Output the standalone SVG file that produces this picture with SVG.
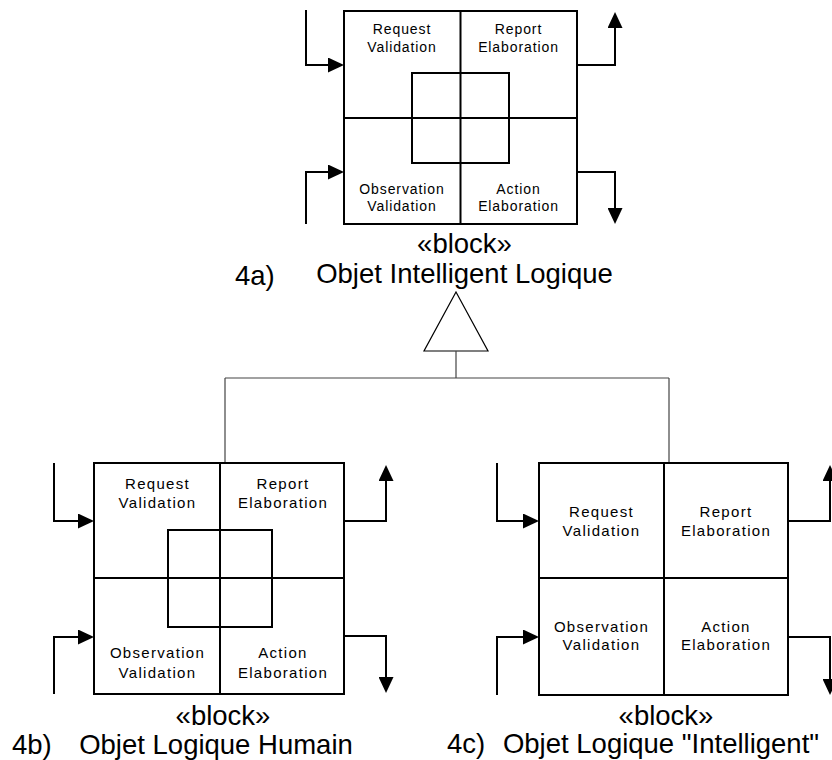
<svg xmlns="http://www.w3.org/2000/svg" width="832" height="760" viewBox="0 0 832 760">
<style>
.box{fill:#fff;stroke:#000;stroke-width:2}
.ln{fill:none;stroke:#000;stroke-width:2}
.arr{fill:none;stroke:#000;stroke-width:2;marker-end:url(#ah)}
.con{fill:none;stroke:#444;stroke-width:1.2}
.tri{fill:#fff;stroke:#000;stroke-width:1.2}
.s{font-family:"Liberation Sans",Arial,sans-serif;font-size:14px;letter-spacing:0.9px;text-anchor:middle;fill:#000}
.m{font-family:"Liberation Sans",Arial,sans-serif;font-size:15px;letter-spacing:1.3px;text-anchor:middle;fill:#000}
.b{font-family:"Liberation Sans",Arial,sans-serif;font-size:27.5px;text-anchor:middle;fill:#000}
.n{font-family:"Liberation Sans",Arial,sans-serif;font-size:27.5px;fill:#000}
</style>
<defs>
<marker id="ah" viewBox="0 0 16 15" markerWidth="16" markerHeight="15" refX="0" refY="7.5" orient="auto" markerUnits="userSpaceOnUse">
<path d="M0,0 L16,7.5 L0,15 z" fill="#000"/>
</marker>
</defs>

<g id="connectors">
<polygon class="tri" points="456,292 488,351 424,351"/>
<path class="con" d="M456,351 V378 M225,378 H669 M225,378 V463 M669,378 V463"/>
</g>

<g id="block-4a">
<rect class="box" x="344" y="11" width="233" height="213"/>
<path class="ln" d="M460.5,11 V224 M344,118 H577"/>
<rect class="ln" x="412" y="73" width="97" height="90"/>
<path class="arr" d="M306,10 V65 H328"/>
<path class="arr" d="M306,224 V172 H328"/>
<path class="arr" d="M577,65 H615 V28"/>
<path class="arr" d="M577,172 H615 V208"/>
<text class="s" x="402" y="34">Request</text>
<text class="s" x="402" y="52">Validation</text>
<text class="s" x="518.5" y="34">Report</text>
<text class="s" x="518.5" y="52">Elaboration</text>
<text class="s" x="402" y="194">Observation</text>
<text class="s" x="402" y="211">Validation</text>
<text class="s" x="518.5" y="194">Action</text>
<text class="s" x="518.5" y="211">Elaboration</text>
<text class="b" x="464.5" y="253">«block»</text>
<text class="b" x="464.5" y="283">Objet Intelligent Logique</text>
<text class="n" x="235" y="285">4a)</text>
</g>

<g id="block-4b">
<rect class="box" x="94" y="463" width="250" height="231"/>
<path class="ln" d="M220,463 V694 M94,578 H344"/>
<rect class="ln" x="168" y="530" width="104" height="97"/>
<path class="arr" d="M54,463 V521 H78"/>
<path class="arr" d="M54,694 V637 H78"/>
<path class="arr" d="M344,521 H386 V481"/>
<path class="arr" d="M344,636 H386 V677"/>
<text class="m" x="157.5" y="489">Request</text>
<text class="m" x="157.5" y="508">Validation</text>
<text class="m" x="283" y="489">Report</text>
<text class="m" x="283" y="508">Elaboration</text>
<text class="m" x="157.5" y="658">Observation</text>
<text class="m" x="157.5" y="678">Validation</text>
<text class="m" x="283" y="658">Action</text>
<text class="m" x="283" y="678">Elaboration</text>
<text class="b" x="223" y="725">«block»</text>
<text class="b" x="216" y="754">Objet Logique Humain</text>
<text class="n" x="12" y="754">4b)</text>
</g>

<g id="block-4c">
<rect class="box" x="539" y="463" width="249" height="232"/>
<path class="ln" d="M664,463 V695 M539,578 H788"/>
<path class="arr" d="M497,463 V521 H523"/>
<path class="arr" d="M497,695 V637 H523"/>
<path class="arr" d="M788,521 H830 V481"/>
<path class="arr" d="M788,637 H830 V679"/>
<text class="m" x="601.5" y="517">Request</text>
<text class="m" x="601.5" y="536">Validation</text>
<text class="m" x="726" y="517">Report</text>
<text class="m" x="726" y="536">Elaboration</text>
<text class="m" x="601.5" y="632">Observation</text>
<text class="m" x="601.5" y="650">Validation</text>
<text class="m" x="726" y="632">Action</text>
<text class="m" x="726" y="650">Elaboration</text>
<text class="b" x="666" y="725">«block»</text>
<text class="b" x="661" y="753">Objet Logique "Intelligent"</text>
<text class="n" x="447" y="753">4c)</text>
</g>
</svg>
